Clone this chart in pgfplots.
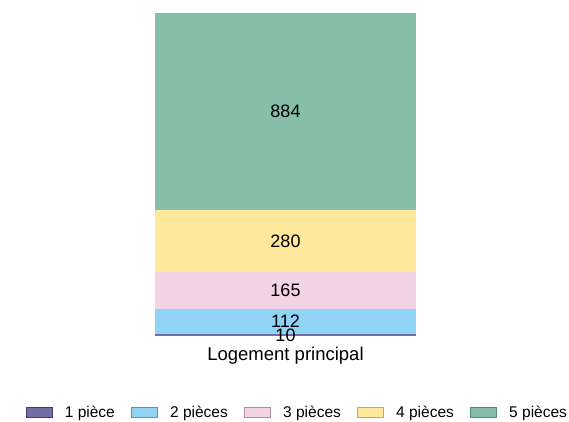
\documentclass[border=0pt]{standalone}
\usepackage{pgfplots}
\pgfplotsset{compat=1.18}
\usepackage{fontspec}
\setmainfont{Liberation Sans}
\definecolor{c1}{HTML}{6F6FA6}
\definecolor{c1d}{HTML}{3E3E78}
\definecolor{c2}{HTML}{8FD3F5}
\definecolor{c2d}{HTML}{4C98C8}
\definecolor{c3}{HTML}{F2D4E4}
\definecolor{c3d}{HTML}{B7889F}
\definecolor{c4}{HTML}{FFE79B}
\definecolor{c4d}{HTML}{C9A84A}
\definecolor{c5}{HTML}{86BEA9}
\definecolor{c5d}{HTML}{4E8C74}
\pgfplotsset{myleg/.style 2 args={legend image code/.code={\draw[fill=#1,draw=#2,line width=0.8pt] (0pt,-5pt) rectangle (26pt,5pt);}}}
\begin{document}
\begin{tikzpicture}
\path[use as bounding box] (0,0) rectangle (569pt,421pt);
\begin{axis}[
  at={(155pt,85pt)}, anchor=south west,
  scale only axis, width=261pt, height=323pt,
  ybar stacked, bar width=261pt,
  xmin=-0.5, xmax=0.5, ymin=0, ymax=1451,
  axis line style={draw=none},
  major tick length=0pt,
  ytick=\empty,
  xtick={0}, xticklabels={Logement principal},
  xticklabel style={font=\fontsize{18.5}{21}\selectfont, yshift=-8pt},
  legend style={draw=none, at={(0.546,-0.236)}, anchor=center,
    font=\fontsize{15.5}{18}\selectfont, legend columns=5,
    /tikz/every odd column/.append style={column sep=10pt},
    /tikz/every even column/.append style={column sep=14.5pt}},
]
\addplot[fill=c1, draw=none, myleg={c1}{c1d}] coordinates {(0,10)};
\addplot[fill=c2, draw=none, myleg={c2}{c2d}] coordinates {(0,112)};
\addplot[fill=c3, draw=none, myleg={c3}{c3d}] coordinates {(0,165)};
\addplot[fill=c4, draw=none, myleg={c4}{c4d}] coordinates {(0,280)};
\addplot[fill=c5, draw=none, myleg={c5}{c5d}] coordinates {(0,884)};
\legend{1 pièce, 2 pièces, 3 pièces, 4 pièces, 5 pièces}
\end{axis}
\begin{axis}[
  at={(155pt,85pt)}, anchor=south west,
  scale only axis, width=261pt, height=323pt,
  xmin=-0.5, xmax=0.5, ymin=0, ymax=1451,
  hide axis,
]
\addplot[only marks, mark=none, point meta=explicit symbolic,
  nodes near coords={\pgfplotspointmeta},
  every node near coord/.style={anchor=center, text=black, font=\fontsize{18}{21}\selectfont}]
  coordinates {(0,5) [10] (0,66) [112] (0,204.5) [165] (0,427) [280] (0,1009) [884]};
\end{axis}
\end{tikzpicture}
\end{document}
